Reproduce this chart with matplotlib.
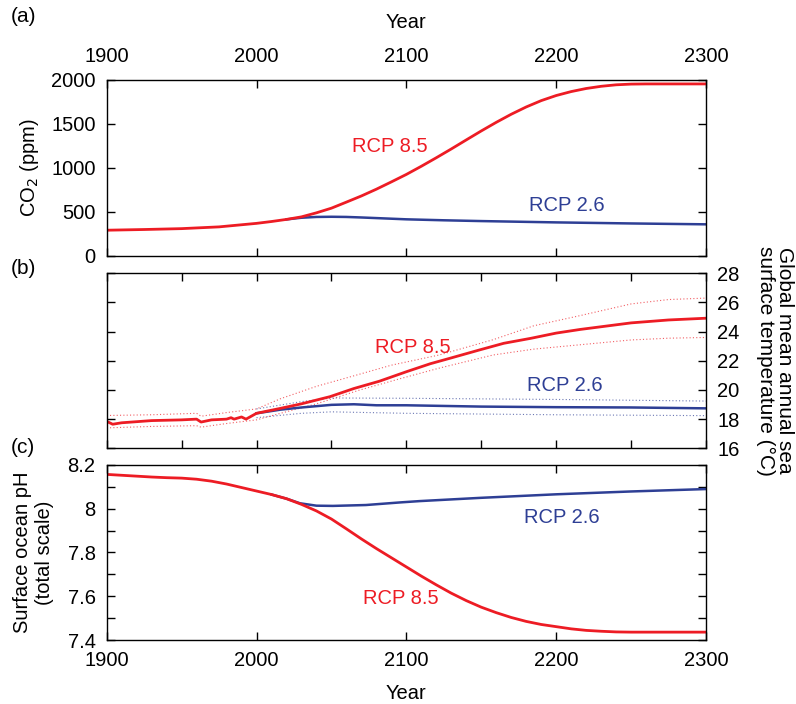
import matplotlib.pyplot as plt
import numpy as np

plt.rcParams['font.family'] = ['Liberation Sans', 'DejaVu Sans']
plt.rcParams['font.size'] = 14.5

RED = "#ed1c24"
BLUE = "#2e3f95"

### Data ###

# (a) CO2 (ppm)
co2_85_years = [1900, 1925, 1950, 1975, 2000, 2010, 2020, 2030, 2040, 2050, 2060, 2070,
                2080, 2090, 2100, 2110, 2120, 2130, 2140, 2150, 2160, 2170, 2180, 2190,
                2200, 2210, 2220, 2230, 2240, 2250, 2260, 2300]
co2_85 = [290, 298, 308, 328, 368, 389, 413, 442, 488, 541, 610, 680, 757, 840, 925,
          1018, 1115, 1215, 1318, 1420, 1518, 1610, 1693, 1765, 1823, 1868, 1903, 1928,
          1945, 1953, 1955, 1955]
co2_26_years = [2020, 2030, 2040, 2050, 2060, 2070, 2080, 2090, 2100, 2125, 2150, 2200,
                2250, 2300]
co2_26 = [413, 432, 441, 443, 441, 435, 428, 421, 414, 403, 394, 379, 367, 357]

# (b) Global mean annual sea surface temperature (degC)
sst_85_years = [1900, 1904, 1910, 1930, 1950, 1960, 1963, 1970, 1980, 1983, 1985, 1990,
                1993, 2000, 2016, 2030, 2049, 2065, 2082, 2100, 2116, 2130, 2149, 2165,
                2183, 2200, 2216, 2250, 2275, 2300]
sst_85 = [17.85, 17.65, 17.75, 17.9, 17.95, 18.0, 17.8, 17.95, 18.0, 18.1, 18.0, 18.15,
          18.0, 18.4, 18.74, 19.05, 19.54, 20.1, 20.6, 21.25, 21.8, 22.2, 22.75, 23.2,
          23.54, 23.9, 24.15, 24.6, 24.8, 24.92]
sst_85_hi_years = [1900, 1930, 1960, 1963, 1980, 2000, 2016, 2040, 2066, 2090, 2122,
                   2158, 2185, 2216, 2250, 2275, 2300]
sst_85_hi = [18.25, 18.3, 18.4, 18.2, 18.45, 18.7, 19.4, 20.25, 21.0, 21.7, 22.4, 23.45,
             24.4, 25.1, 25.9, 26.2, 26.3]
sst_85_lo_years = [1900, 1930, 1960, 1963, 1980, 2000, 2016, 2040, 2069, 2095, 2122,
                   2158, 2185, 2216, 2250, 2275, 2300]
sst_85_lo = [17.4, 17.5, 17.55, 17.45, 17.7, 17.95, 18.4, 19.05, 20.0, 20.75, 21.5, 22.4,
             22.8, 23.1, 23.43, 23.55, 23.6]
sst_26_years = [2000, 2016, 2030, 2050, 2065, 2080, 2100, 2150, 2200, 2250, 2300]
sst_26 = [18.4, 18.65, 18.8, 18.98, 19.02, 18.95, 18.95, 18.86, 18.82, 18.8, 18.74]
sst_26_hi_years = [2000, 2030, 2050, 2100, 2200, 2300]
sst_26_hi = [18.7, 19.2, 19.45, 19.43, 19.35, 19.24]
sst_26_lo_years = [2000, 2030, 2050, 2100, 2200, 2300]
sst_26_lo = [18.1, 18.4, 18.5, 18.4, 18.3, 18.24]

# (c) Surface ocean pH
ph_85_years = [1900, 1910, 1920, 1930, 1940, 1950, 1960, 1970, 1980, 1990, 2000, 2010,
               2020, 2030, 2040, 2050, 2060, 2070, 2080, 2090, 2100, 2110, 2120, 2130,
               2140, 2150, 2160, 2170, 2180, 2190, 2200, 2210, 2220, 2230, 2240, 2250, 2300]
ph_85 = [8.157, 8.153, 8.149, 8.145, 8.142, 8.140, 8.135, 8.126, 8.113, 8.097, 8.081,
         8.065, 8.046, 8.020, 7.990, 7.953, 7.908, 7.862, 7.818, 7.776, 7.734, 7.692,
         7.652, 7.614, 7.580, 7.550, 7.525, 7.503, 7.485, 7.471, 7.461, 7.451, 7.444,
         7.440, 7.437, 7.436, 7.436]
ph_26_years = [2010, 2020, 2029, 2040, 2051, 2073, 2096, 2109, 2150, 2200, 2250, 2300]
ph_26 = [8.065, 8.046, 8.025, 8.014, 8.013, 8.017, 8.029, 8.035, 8.05, 8.066, 8.079, 8.09]

### Figura ###

fig = plt.figure(figsize=(7.96, 7.04), dpi=100)
left, width = 0.134, 0.753
ax_a = fig.add_axes([left, 0.6368, width, 0.2496])
ax_b = fig.add_axes([left, 0.3632, width, 0.2486])
ax_c = fig.add_axes([left, 0.0909, width, 0.2486])

for ax in (ax_a, ax_b, ax_c):
    ax.set_xlim(1900, 2300)
    ax.tick_params(direction="in", length=6, width=1, top=True, right=True)
    ax.tick_params(axis="x", pad=8)
    ax.tick_params(axis="y", pad=8)
    for s in ax.spines.values():
        s.set_linewidth(1)

# (a)
ax_a.plot(co2_26_years, co2_26, color=BLUE, lw=1.8)
ax_a.plot(co2_85_years, co2_85, color=RED, lw=2)
ax_a.set_ylim(0, 2000)
ax_a.set_yticks(np.arange(0, 2001, 500))
ax_a.set_xticks([1900, 2000, 2100, 2200, 2300])
ax_a.tick_params(labeltop=True, labelbottom=False)
ax_a.tick_params(axis="x", pad=10)
ax_a.xaxis.set_label_position("top")
ax_a.set_xlabel("Year", labelpad=14)
ax_a.set_ylabel("CO$_2$ (ppm)", labelpad=7)
ax_a.text(2089, 1247, "RCP 8.5", color=RED, ha="center", va="center")
ax_a.text(2207, 576, "RCP 2.6", color=BLUE, ha="center", va="center")

# (b)
dot = (0, (1, 2))
ax_b.plot(sst_85_hi_years, sst_85_hi, color=RED, lw=0.8, ls=dot, alpha=0.7)
ax_b.plot(sst_85_lo_years, sst_85_lo, color=RED, lw=0.8, ls=dot, alpha=0.7)
ax_b.plot(sst_26_hi_years, sst_26_hi, color=BLUE, lw=0.8, ls=dot, alpha=0.7)
ax_b.plot(sst_26_lo_years, sst_26_lo, color=BLUE, lw=0.8, ls=dot, alpha=0.7)
ax_b.plot(sst_26_years, sst_26, color=BLUE, lw=1.8)
ax_b.plot(sst_85_years, sst_85, color=RED, lw=2)
ax_b.set_ylim(16, 28)
ax_b.set_yticks(np.arange(16, 29, 2))
ax_b.set_xticks(np.arange(1900, 2301, 50))
ax_b.tick_params(labelleft=False, labelright=True, labelbottom=False)
ax_b.yaxis.set_label_position("right")
ax_b.set_ylabel("Global mean annual sea\nsurface temperature (\u00b0C)", rotation=-90,
                va="bottom", labelpad=12, linespacing=1.0, fontsize=15)
ax_b.text(2104, 22.88, "RCP 8.5", color=RED, ha="center", va="center")
ax_b.text(2206, 20.34, "RCP 2.6", color=BLUE, ha="center", va="center")

# (c)
ax_c.plot(ph_26_years, ph_26, color=BLUE, lw=1.8)
ax_c.plot(ph_85_years, ph_85, color=RED, lw=2)
ax_c.set_ylim(7.4, 8.2)
ax_c.set_yticks(np.arange(7.4, 8.21, 0.1))
ax_c.set_yticklabels(["7.4", "", "7.6", "", "7.8", "", "8", "", "8.2"])
ax_c.set_xticks([1900, 2000, 2100, 2200, 2300])
ax_c.set_xlabel("Year", labelpad=10)
ax_c.set_ylabel("Surface ocean pH\n(total scale)", labelpad=10)
ax_c.text(2204, 7.962, "RCP 2.6", color=BLUE, ha="center", va="center")
ax_c.text(2096, 7.592, "RCP 8.5", color=RED, ha="center", va="center")

# panel letters
fig.text(0.014, 0.977, "(a)", fontsize=15, va="center")
fig.text(0.014, 0.619, "(b)", fontsize=15, va="center")
fig.text(0.014, 0.365, "(c)", fontsize=15, va="center")

fig.savefig("out.png", dpi=100)
